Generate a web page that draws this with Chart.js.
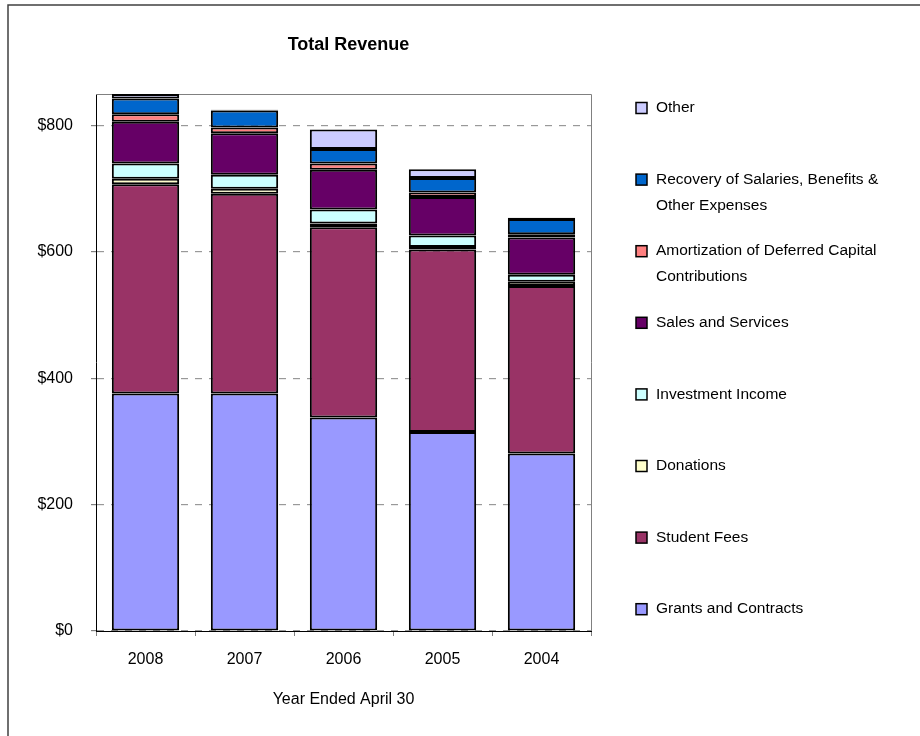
<!DOCTYPE html>
<html>
<head>
<meta charset="utf-8">
<title>Total Revenue</title>
<script src="https://cdn.jsdelivr.net/npm/chart.js@4/dist/chart.umd.min.js"></script>
<style>
  html, body { margin: 0; padding: 0; background: #fff; }
  #wrap { width: 920px; height: 736px; }
</style>
</head>
<body>
<div id="wrap"><canvas id="revenueChart" width="920" height="736"></canvas></div>
<script>
// values ($ millions)
const years = ['2008', '2007', '2006', '2005', '2004'];
const grants = [376, 376, 338, 315, 281];
const studentFees = [331, 316, 301, 289, 265];
const donations = [9, 8, 6, 4, 7];
const investment = [24, 22, 22, 18, 11];
const sales = [66, 66, 63, 61, 59];
const amortization = [12, 9, 10, 7, 5];
const recovery = [25, 27, 23, 23, 24];
const other = [7, 1, 31, 14, 2];
const yTicks = [0, 200, 400, 600, 800];
const yMax = 850;

const seriesNames = [
  'Grants and Contracts',
  'Student Fees',
  'Donations',
  'Investment Income',
  'Sales and Services',
  'Amortization of Deferred Capital Contributions',
  'Recovery of Salaries, Benefits & Other Expenses',
  'Other',
];
const seriesData = [grants, studentFees, donations, investment, sales, amortization, recovery, other];
const seriesColors = ['#9999FF', '#993366', '#FFFFCC', '#CCFFFF', '#660066', '#FF8080', '#0066CC', '#CCCCFF'];

const FONT = "'Liberation Sans', Arial, sans-serif";

function wrapText(ctx, text, maxWidth) {
  const words = text.split(' ');
  const lines = [];
  let line = '';
  words.forEach((w) => {
    const test = line ? line + ' ' + w : w;
    if (ctx.measureText(test).width > maxWidth && line) {
      lines.push(line);
      line = w;
    } else {
      line = test;
    }
  });
  if (line) lines.push(line);
  return lines;
}

// frame, plot border, title and the side legend
const decorations = {
  id: 'decorations',
  beforeDatasetsDraw(chart) {
    const { ctx, chartArea } = chart;
    ctx.save();
    ctx.strokeStyle = '#808080';
    ctx.lineWidth = 1;
    ctx.beginPath();
    ctx.moveTo(chartArea.left, chartArea.top + 0.5);
    ctx.lineTo(chartArea.right + 0.5, chartArea.top + 0.5);
    ctx.lineTo(chartArea.right + 0.5, chartArea.bottom);
    ctx.stroke();
    ctx.restore();
  },
  afterDraw(chart) {
    const { ctx, chartArea } = chart;
    ctx.save();

    // outer chart frame (only left and top are in view)
    ctx.strokeStyle = '#404040';
    ctx.lineWidth = 1.5;
    ctx.beginPath();
    ctx.moveTo(8, chart.height);
    ctx.lineTo(8, 5);
    ctx.lineTo(chart.width, 5);
    ctx.stroke();

    // title
    ctx.fillStyle = '#000';
    ctx.font = 'bold 18px ' + FONT;
    ctx.textAlign = 'center';
    ctx.textBaseline = 'middle';
    ctx.fillText('Total Revenue', (chartArea.left + chartArea.right) / 2 + 5, 45);

    // legend, reversed so the top entry matches the top of the stack
    ctx.font = '15.5px ' + FONT;
    ctx.textAlign = 'left';
    const boxX = 636;
    const textX = 656;
    const firstY = 108;
    const step = 71.6;
    const lineH = 26;
    const items = chart.data.datasets.slice().reverse();
    items.forEach((ds, i) => {
      const y = firstY + i * step;
      ctx.fillStyle = ds.backgroundColor;
      ctx.fillRect(boxX, y - 5.5, 11, 11);
      ctx.strokeStyle = '#000';
      ctx.lineWidth = 1.5;
      ctx.strokeRect(boxX, y - 5.5, 11, 11);
      ctx.fillStyle = '#000';
      wrapText(ctx, ds.label, 232).forEach((ln, k) => {
        ctx.fillText(ln, textX, y + k * lineH);
      });
    });
    ctx.restore();
  },
};

new Chart(document.getElementById('revenueChart'), {
  type: 'bar',
  data: {
    labels: years,
    datasets: seriesNames.map((name, i) => ({
      label: name,
      data: seriesData[i],
      backgroundColor: seriesColors[i],
      borderColor: '#000',
      borderWidth: 2,
      borderSkipped: false,
      categoryPercentage: 1,
      barPercentage: 0.68,
    })),
  },
  options: {
    responsive: false,
    devicePixelRatio: 1,
    animation: false,
    layout: { padding: { left: 0, top: 94, right: 329, bottom: 27 } },
    plugins: {
      legend: { display: false },
      title: { display: false },
      tooltip: { enabled: false },
    },
    scales: {
      x: {
        stacked: true,
        grid: {
          drawOnChartArea: false,
          drawTicks: true,
          tickLength: 5,
          tickColor: '#808080',
        },
        border: { color: '#000', width: 1 },
        ticks: { color: '#000', font: { family: FONT, size: 16 }, padding: 14 },
        title: {
          display: true,
          text: 'Year Ended April 30',
          color: '#000',
          font: { family: FONT, size: 16 },
          padding: { top: 0, bottom: 0 },
        },
        afterFit(scale) { scale.height = 78; },
      },
      y: {
        stacked: true,
        min: 0,
        max: yMax,
        afterBuildTicks(scale) { scale.ticks = yTicks.map((v) => ({ value: v })); },
        grid: {
          color: '#999999',
          lineWidth: 1.2,
          tickLength: 5,
          tickColor: '#808080',
        },
        border: { color: '#000', width: 1, dash: [7, 7] },
        ticks: {
          color: '#000',
          font: { family: FONT, size: 16 },
          padding: 18,
          callback: (v) => '$' + v,
        },
        afterFit(scale) { scale.width = 96; },
      },
    },
  },
  plugins: [decorations],
});
</script>
</body>
</html>
